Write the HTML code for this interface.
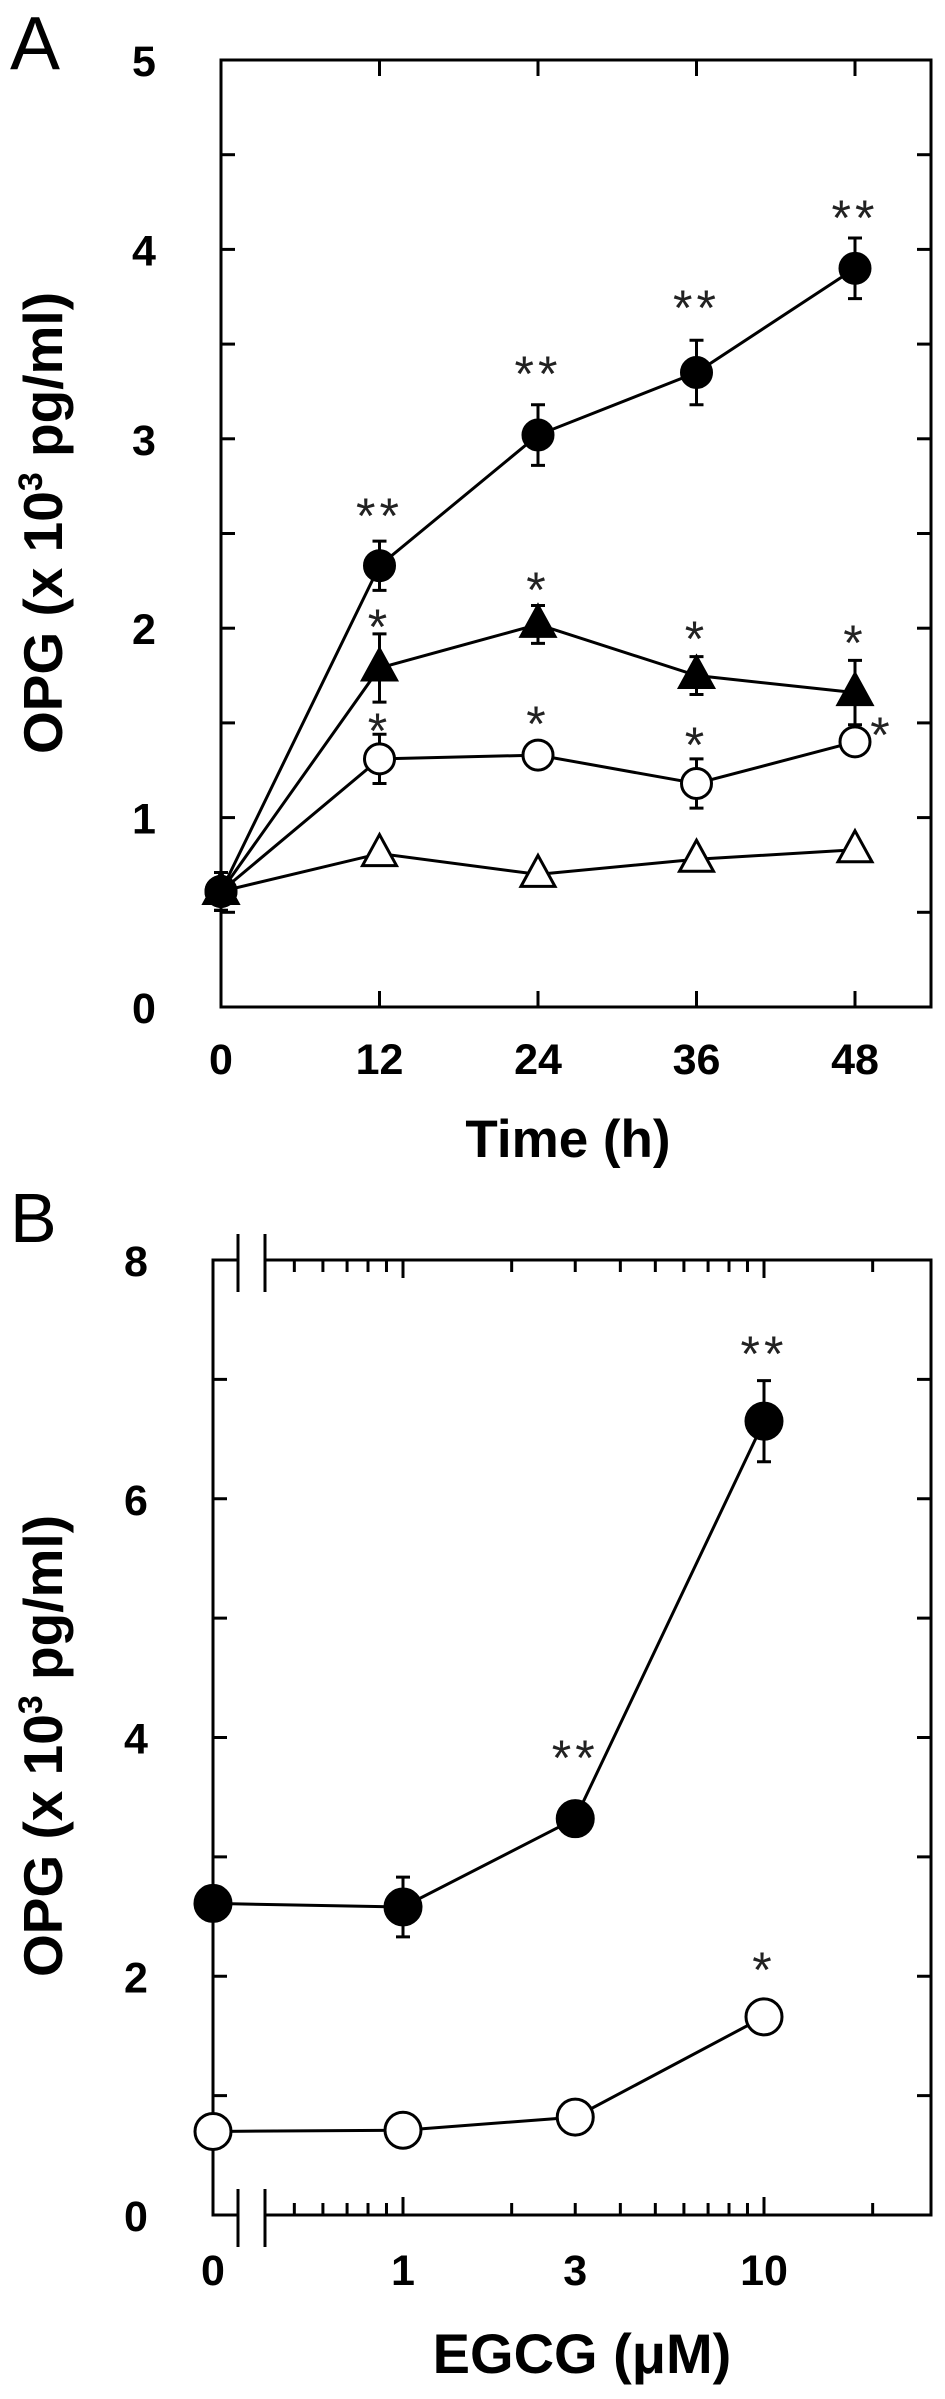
<!DOCTYPE html>
<html><head><meta charset="utf-8"><style>
html,body{margin:0;padding:0;background:#fff}
svg{display:block}
text{font-family:"Liberation Sans",Arial,sans-serif}
</style></head><body>
<svg id="fig" width="945" height="2399" viewBox="0 0 945 2399">
<g id="A"></g>
<g id="B"></g>
</svg>
<script>
// Panel A data
const aTimes = [0, 12, 24, 36, 48];
const aFilledCircle = [0.61, 2.33, 3.02, 3.35, 3.90];
const aFilledCircleErr = [0.1, 0.13, 0.16, 0.17, 0.16];
const aFilledTri = [0.61, 1.79, 2.02, 1.75, 1.66];
const aFilledTriErr = [0.1, 0.18, 0.1, 0.1, 0.17];
const aOpenCircle = [0.61, 1.31, 1.33, 1.18, 1.40];
const aOpenCircleErr = [0.1, 0.13, 0.03, 0.13, 0.04];
const aOpenTri = [0.61, 0.81, 0.70, 0.78, 0.83];
const aYTicks = [0, 1, 2, 3, 4, 5];
const aXTicks = [0, 12, 24, 36, 48];
// Panel B data
const bDoses = [0, 1, 3, 10];
const bDoseLabels = ["0", "1", "3", "10"];
const bFilled = [2.61, 2.58, 3.32, 6.65];
const bFilledErr = [0.05, 0.25, 0.05, 0.34];
const bOpen = [0.70, 0.71, 0.82, 1.66];
const bYTicks = [0, 2, 4, 6, 8];

const NS = "http://www.w3.org/2000/svg";
function mk(parent, tag, attrs, txt) {
  const e = document.createElementNS(NS, tag);
  for (const k in attrs) e.setAttribute(k, attrs[k]);
  if (txt !== undefined) e.textContent = txt;
  parent.appendChild(e);
  return e;
}
const A = document.getElementById('A');
const B = document.getElementById('B');

// ---------- Panel A ----------
const aL = 221, aR = 931, aT = 60, aBt = 1007;
const ax = t => 221 + t * (158.5 / 12);
const ay = v => aBt - v * (aBt - aT) / 5;
let e;
e = mk(A, 'rect', {x: aL, y: aT, width: aR - aL, height: aBt - aT, fill: 'none', stroke: '#000', 'stroke-width': 3});


for (let v = 0.5; v < 5; v += 0.5) {
  e = mk(A, 'line', {x1: aL, x2: aL + 14, y1: ay(v), y2: ay(v), stroke: '#000', 'stroke-width': 3});
  
  
  e = mk(A, 'line', {x1: aR, x2: aR - 14, y1: ay(v), y2: ay(v), stroke: '#000', 'stroke-width': 3});
  
  
}
aYTicks.forEach(v => {
  e = mk(A, 'text', {x: 144, y: ay(v) + 16, 'font-size': 43, 'font-weight': 'bold', 'text-anchor': 'middle'}, String(v));
  
  
});
aXTicks.forEach(t => {
  if (t > 0) {
    e = mk(A, 'line', {x1: ax(t), x2: ax(t), y1: aBt, y2: aBt - 16, stroke: '#000', 'stroke-width': 3});
    
    
    e = mk(A, 'line', {x1: ax(t), x2: ax(t), y1: aT, y2: aT + 16, stroke: '#000', 'stroke-width': 3});
    
    
  }
  e = mk(A, 'text', {x: ax(t), y: 1074, 'font-size': 43, 'font-weight': 'bold', 'text-anchor': 'middle'}, String(t));
  
  
});
e = mk(A, 'text', {x: 568, y: 1157, 'font-size': 53, 'font-weight': 'bold', 'text-anchor': 'middle'}, 'Time (h)');


e = mk(A, 'text', {x: 0, y: 0, 'font-size': 55, 'font-weight': 'bold', 'text-anchor': 'middle', transform: 'translate(62,523) rotate(-90)'});


e.innerHTML = 'OPG (x 10<tspan font-size="34" dy="-20">3</tspan><tspan dy="20"> pg/ml)</tspan>';
e = mk(A, 'text', {x: 10, y: 69, 'font-size': 75}, 'A');



function series(g, xs, ys, errs, xf, yf, kind, fill, name, r) {
  const pts = xs.map((x, i) => xf(x) + ',' + yf(ys[i])).join(' ');
  let el = mk(g, 'polyline', {points: pts, fill: 'none', stroke: '#000', 'stroke-width': 3});
  
  
  xs.forEach((x, i) => {
    const cx = xf(x), cy = yf(ys[i]);
    if (errs) {
      const hi = yf(ys[i] + errs[i]), lo = yf(ys[i] - errs[i]);
      el = mk(g, 'path', {d: `M${cx},${hi}V${lo}M${cx - 7},${hi}H${cx + 7}M${cx - 7},${lo}H${cx + 7}`, stroke: '#000', 'stroke-width': 3, fill: 'none'});
      
      
    }
    if (kind === 'circle') {
      el = mk(g, 'ellipse', {cx: cx, cy: cy, rx: r, ry: r, fill: fill, stroke: '#000', 'stroke-width': 3});
    } else {
      el = mk(g, 'polygon', {points: `${cx},${cy - 19} ${cx + 17},${cy + 12} ${cx - 17},${cy + 12}`, fill: fill, stroke: '#000', 'stroke-width': 3});
    }
    
    
  });
}
series(A, aTimes, aOpenTri, null, ax, ay, 'tri', '#fff', 'open-triangle', 0);
series(A, aTimes, aOpenCircle, aOpenCircleErr, ax, ay, 'circle', '#fff', 'open-circle', 15);
series(A, aTimes, aFilledTri, aFilledTriErr, ax, ay, 'tri', '#000', 'filled-triangle', 0);
series(A, aTimes, aFilledCircle, aFilledCircleErr, ax, ay, 'circle', '#000', 'filled-circle', 15);

function star(g, x, cy, s) {
  const el = mk(g, 'text', {x: x, y: cy + 29, 'font-size': 50, 'text-anchor': 'middle', fill: '#222', 'letter-spacing': 4}, s);
  
  
}
star(A, ax(12), 504, '**'); star(A, ax(24), 362, '**'); star(A, ax(36), 296, '**'); star(A, ax(48), 206, '**');
star(A, ax(12), 615, '*'); star(A, ax(24), 578, '*'); star(A, ax(36), 627, '*'); star(A, ax(48), 631, '*');
star(A, ax(12), 719, '*'); star(A, ax(24), 712, '*'); star(A, ax(36), 733, '*'); star(A, 882, 723, '*');

// ---------- Panel B ----------
const bL = 213, bR = 931, bT = 1260, bBt = 2215;
const by = v => bBt - v * (bBt - bT) / 8;
const bx = d => d === 0 ? 213 : 403 + Math.log10(d) * 361;
e = mk(B, 'path', {d: `M238,${bT}H${bL}V${bBt}H238 M265,${bBt}H${bR}V${bT}H265`, fill: 'none', stroke: '#000', 'stroke-width': 3});


[238, 265].forEach(x => {
  [bT, bBt].forEach(y => {
    e = mk(B, 'line', {x1: x, x2: x, y1: y - 26, y2: y + 32, stroke: '#000', 'stroke-width': 3});
    
    
  });
});
for (let v = 1; v < 8; v++) {
  e = mk(B, 'line', {x1: bL, x2: bL + 14, y1: by(v), y2: by(v), stroke: '#000', 'stroke-width': 3});
  
  
  e = mk(B, 'line', {x1: bR, x2: bR - 14, y1: by(v), y2: by(v), stroke: '#000', 'stroke-width': 3});
  
  
}
bYTicks.forEach(v => {
  e = mk(B, 'text', {x: 136, y: by(v) + 16, 'font-size': 43, 'font-weight': 'bold', 'text-anchor': 'middle'}, String(v));
  
  
});
const minor = [0.5, 0.6, 0.7, 0.8, 0.9, 1, 2, 3, 4, 5, 6, 7, 8, 9, 10, 20];
minor.forEach(d => {
  const len = (d === 1 || d === 10) ? 18 : 12;
  e = mk(B, 'line', {x1: bx(d), x2: bx(d), y1: bBt, y2: bBt - len, stroke: '#000', 'stroke-width': 3});
  
  
  e = mk(B, 'line', {x1: bx(d), x2: bx(d), y1: bT, y2: bT + len, stroke: '#000', 'stroke-width': 3});
  
  
});
bDoses.forEach((d, i) => {
  e = mk(B, 'text', {x: bx(d), y: 2285, 'font-size': 43, 'font-weight': 'bold', 'text-anchor': 'middle'}, bDoseLabels[i]);
  
  
});
e = mk(B, 'text', {x: 582, y: 2373, 'font-size': 56, 'font-weight': 'bold', 'text-anchor': 'middle'}, 'EGCG (μM)');


e = mk(B, 'text', {x: 0, y: 0, 'font-size': 55, 'font-weight': 'bold', 'text-anchor': 'middle', transform: 'translate(62,1746) rotate(-90)'});


e.innerHTML = 'OPG (x 10<tspan font-size="34" dy="-20">3</tspan><tspan dy="20"> pg/ml)</tspan>';
e = mk(B, 'text', {x: 10, y: 1242, 'font-size': 70}, 'B');



series(B, bDoses, bOpen, null, bx, by, 'circle', '#fff', 'open-circle-b', 18);
series(B, bDoses, bFilled, bFilledErr, bx, by, 'circle', '#000', 'filled-circle-b', 18);
star(B, bx(3), 1746, '**'); star(B, bx(10), 1342, '**'); star(B, bx(10), 1958, '*');
</script>
</body></html>
